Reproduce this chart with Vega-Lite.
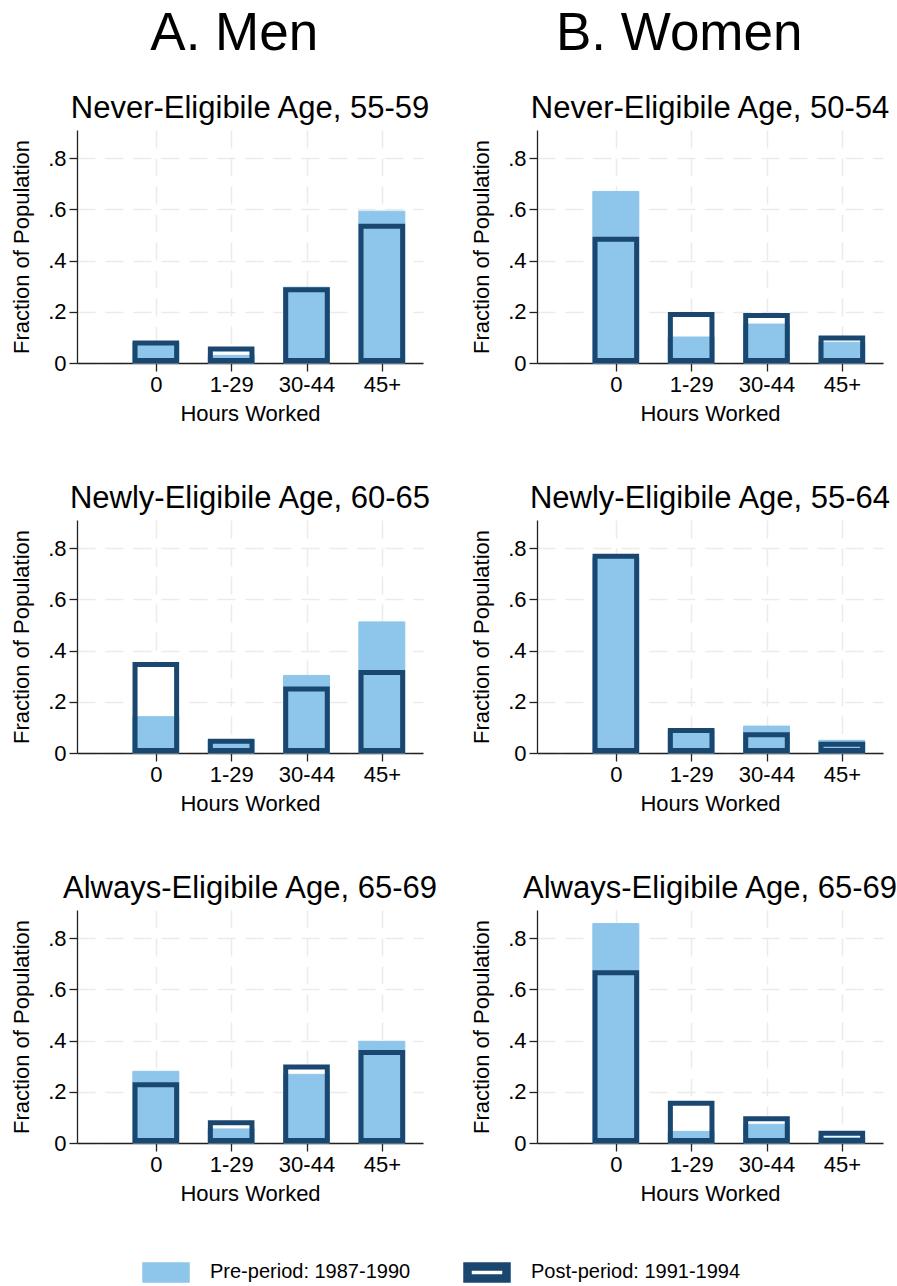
{
  "$schema": "https://vega.github.io/schema/vega-lite/v6.json",
  "background": "white",
  "padding": {"left": 10, "top": 8, "right": 5, "bottom": 4},
  "data": {"values": [
    {"panel": "m1", "pos": 0, "hours": "0", "period": "Pre-period: 1987-1990", "value": 0.080},
    {"panel": "m1", "pos": 1, "hours": "1-29", "period": "Pre-period: 1987-1990", "value": 0.030},
    {"panel": "m1", "pos": 2, "hours": "30-44", "period": "Pre-period: 1987-1990", "value": 0.296},
    {"panel": "m1", "pos": 3, "hours": "45+", "period": "Pre-period: 1987-1990", "value": 0.593},
    {"panel": "m1", "pos": 0, "hours": "0", "period": "Post-period: 1991-1994", "value": 0.088},
    {"panel": "m1", "pos": 1, "hours": "1-29", "period": "Post-period: 1991-1994", "value": 0.064},
    {"panel": "m1", "pos": 2, "hours": "30-44", "period": "Post-period: 1991-1994", "value": 0.296},
    {"panel": "m1", "pos": 3, "hours": "45+", "period": "Post-period: 1991-1994", "value": 0.544},
    {"panel": "f1", "pos": 0, "hours": "0", "period": "Pre-period: 1987-1990", "value": 0.670},
    {"panel": "f1", "pos": 1, "hours": "1-29", "period": "Pre-period: 1987-1990", "value": 0.1015},
    {"panel": "f1", "pos": 2, "hours": "30-44", "period": "Pre-period: 1987-1990", "value": 0.152},
    {"panel": "f1", "pos": 3, "hours": "45+", "period": "Pre-period: 1987-1990", "value": 0.081},
    {"panel": "f1", "pos": 0, "hours": "0", "period": "Post-period: 1991-1994", "value": 0.493},
    {"panel": "f1", "pos": 1, "hours": "1-29", "period": "Post-period: 1991-1994", "value": 0.199},
    {"panel": "f1", "pos": 2, "hours": "30-44", "period": "Post-period: 1991-1994", "value": 0.195},
    {"panel": "f1", "pos": 3, "hours": "45+", "period": "Post-period: 1991-1994", "value": 0.107},
    {"panel": "m2", "pos": 0, "hours": "0", "period": "Pre-period: 1987-1990", "value": 0.142},
    {"panel": "m2", "pos": 1, "hours": "1-29", "period": "Pre-period: 1987-1990", "value": 0.050},
    {"panel": "m2", "pos": 2, "hours": "30-44", "period": "Pre-period: 1987-1990", "value": 0.303},
    {"panel": "m2", "pos": 3, "hours": "45+", "period": "Pre-period: 1987-1990", "value": 0.512},
    {"panel": "m2", "pos": 0, "hours": "0", "period": "Post-period: 1991-1994", "value": 0.355},
    {"panel": "m2", "pos": 1, "hours": "1-29", "period": "Post-period: 1991-1994", "value": 0.056},
    {"panel": "m2", "pos": 2, "hours": "30-44", "period": "Post-period: 1991-1994", "value": 0.260},
    {"panel": "m2", "pos": 3, "hours": "45+", "period": "Post-period: 1991-1994", "value": 0.324},
    {"panel": "f2", "pos": 0, "hours": "0", "period": "Pre-period: 1987-1990", "value": 0.762},
    {"panel": "f2", "pos": 1, "hours": "1-29", "period": "Pre-period: 1987-1990", "value": 0.090},
    {"panel": "f2", "pos": 2, "hours": "30-44", "period": "Pre-period: 1987-1990", "value": 0.105},
    {"panel": "f2", "pos": 3, "hours": "45+", "period": "Pre-period: 1987-1990", "value": 0.0495},
    {"panel": "f2", "pos": 0, "hours": "0", "period": "Post-period: 1991-1994", "value": 0.778},
    {"panel": "f2", "pos": 1, "hours": "1-29", "period": "Post-period: 1991-1994", "value": 0.0976},
    {"panel": "f2", "pos": 2, "hours": "30-44", "period": "Post-period: 1991-1994", "value": 0.081},
    {"panel": "f2", "pos": 3, "hours": "45+", "period": "Post-period: 1991-1994", "value": 0.044},
    {"panel": "m3", "pos": 0, "hours": "0", "period": "Pre-period: 1987-1990", "value": 0.280},
    {"panel": "m3", "pos": 1, "hours": "1-29", "period": "Pre-period: 1987-1990", "value": 0.055},
    {"panel": "m3", "pos": 2, "hours": "30-44", "period": "Pre-period: 1987-1990", "value": 0.268},
    {"panel": "m3", "pos": 3, "hours": "45+", "period": "Pre-period: 1987-1990", "value": 0.397},
    {"panel": "m3", "pos": 0, "hours": "0", "period": "Post-period: 1991-1994", "value": 0.237},
    {"panel": "m3", "pos": 1, "hours": "1-29", "period": "Post-period: 1991-1994", "value": 0.0885},
    {"panel": "m3", "pos": 2, "hours": "30-44", "period": "Post-period: 1991-1994", "value": 0.307},
    {"panel": "m3", "pos": 3, "hours": "45+", "period": "Post-period: 1991-1994", "value": 0.363},
    {"panel": "f3", "pos": 0, "hours": "0", "period": "Pre-period: 1987-1990", "value": 0.857},
    {"panel": "f3", "pos": 1, "hours": "1-29", "period": "Pre-period: 1987-1990", "value": 0.0455},
    {"panel": "f3", "pos": 2, "hours": "30-44", "period": "Pre-period: 1987-1990", "value": 0.073},
    {"panel": "f3", "pos": 3, "hours": "45+", "period": "Pre-period: 1987-1990", "value": 0.022},
    {"panel": "f3", "pos": 0, "hours": "0", "period": "Post-period: 1991-1994", "value": 0.675},
    {"panel": "f3", "pos": 1, "hours": "1-29", "period": "Post-period: 1991-1994", "value": 0.165},
    {"panel": "f3", "pos": 2, "hours": "30-44", "period": "Post-period: 1991-1994", "value": 0.104},
    {"panel": "f3", "pos": 3, "hours": "45+", "period": "Post-period: 1991-1994", "value": 0.048}
  ]},
  "spacing": 32,
  "hconcat": [
    {
      "title": {"text": "A. Men", "fontSize": 53, "anchor": "middle", "frame": "bounds", "offset": 32, "dx": 10},
      "spacing": 59,
      "vconcat": [
        {
          "title": "Never-Eligibile Age, 55-59",
          "width": 346, "height": 233,
          "transform": [{"filter": "datum.panel == 'm1'"}],
          "layer": [
            {"transform": [{"filter": "datum.period == 'Post-period: 1991-1994'"}], "mark": {"type": "bar", "orient": "vertical", "size": 46.6, "fill": "white"}, "encoding": {"x": {"field": "pos", "type": "quantitative", "scale": {"domain": [-0.98, 3.48], "nice": false, "zero": false}, "axis": {"values": [0, 1, 2, 3], "labelExpr": "['0','1-29','30-44','45+'][datum.value]", "title": "Hours Worked"}}, "y": {"field": "value", "type": "quantitative", "scale": {"domain": [0, 0.91], "nice": false}, "axis": {"values": [0, 0.2, 0.4, 0.6, 0.8], "labelExpr": "datum.value == 0 ? '0' : replace(format(datum.value, '.1f'), '0.', '.')", "title": "Fraction of Population"}}}},
            {"transform": [{"filter": "datum.period == 'Pre-period: 1987-1990'"}], "mark": {"type": "bar", "orient": "vertical", "size": 46}, "encoding": {"x": {"field": "pos", "type": "quantitative"}, "y": {"field": "value", "type": "quantitative"}, "fill": {"field": "period", "type": "nominal", "scale": {"domain": ["Pre-period: 1987-1990", "Post-period: 1991-1994"], "range": ["#8ec5ea", "white"]}}, "stroke": {"field": "period", "type": "nominal", "scale": {"domain": ["Pre-period: 1987-1990", "Post-period: 1991-1994"], "range": ["#8ec5ea", "#1a476f"]}}}},
            {"transform": [{"filter": "datum.period == 'Post-period: 1991-1994'"}], "mark": {"type": "bar", "orient": "vertical", "size": 41.6, "fill": "white", "fillOpacity": 0, "stroke": "#1a476f", "strokeWidth": 5, "yOffset": 2.5, "y2Offset": -2.5}, "encoding": {"x": {"field": "pos", "type": "quantitative"}, "y": {"field": "value", "type": "quantitative"}, "y2": {"datum": 0}}}
          ]
        },
        {
          "title": "Newly-Eligibile Age, 60-65",
          "width": 346, "height": 233,
          "transform": [{"filter": "datum.panel == 'm2'"}],
          "layer": [
            {"transform": [{"filter": "datum.period == 'Post-period: 1991-1994'"}], "mark": {"type": "bar", "orient": "vertical", "size": 46.6, "fill": "white"}, "encoding": {"x": {"field": "pos", "type": "quantitative", "scale": {"domain": [-0.98, 3.48], "nice": false, "zero": false}, "axis": {"values": [0, 1, 2, 3], "labelExpr": "['0','1-29','30-44','45+'][datum.value]", "title": "Hours Worked"}}, "y": {"field": "value", "type": "quantitative", "scale": {"domain": [0, 0.91], "nice": false}, "axis": {"values": [0, 0.2, 0.4, 0.6, 0.8], "labelExpr": "datum.value == 0 ? '0' : replace(format(datum.value, '.1f'), '0.', '.')", "title": "Fraction of Population"}}}},
            {"transform": [{"filter": "datum.period == 'Pre-period: 1987-1990'"}], "mark": {"type": "bar", "orient": "vertical", "size": 46}, "encoding": {"x": {"field": "pos", "type": "quantitative"}, "y": {"field": "value", "type": "quantitative"}, "fill": {"field": "period", "type": "nominal", "scale": {"domain": ["Pre-period: 1987-1990", "Post-period: 1991-1994"], "range": ["#8ec5ea", "white"]}}, "stroke": {"field": "period", "type": "nominal", "scale": {"domain": ["Pre-period: 1987-1990", "Post-period: 1991-1994"], "range": ["#8ec5ea", "#1a476f"]}}}},
            {"transform": [{"filter": "datum.period == 'Post-period: 1991-1994'"}], "mark": {"type": "bar", "orient": "vertical", "size": 41.6, "fill": "white", "fillOpacity": 0, "stroke": "#1a476f", "strokeWidth": 5, "yOffset": 2.5, "y2Offset": -2.5}, "encoding": {"x": {"field": "pos", "type": "quantitative"}, "y": {"field": "value", "type": "quantitative"}, "y2": {"datum": 0}}}
          ]
        },
        {
          "title": "Always-Eligibile Age, 65-69",
          "width": 346, "height": 233,
          "transform": [{"filter": "datum.panel == 'm3'"}],
          "layer": [
            {"transform": [{"filter": "datum.period == 'Post-period: 1991-1994'"}], "mark": {"type": "bar", "orient": "vertical", "size": 46.6, "fill": "white"}, "encoding": {"x": {"field": "pos", "type": "quantitative", "scale": {"domain": [-0.98, 3.48], "nice": false, "zero": false}, "axis": {"values": [0, 1, 2, 3], "labelExpr": "['0','1-29','30-44','45+'][datum.value]", "title": "Hours Worked"}}, "y": {"field": "value", "type": "quantitative", "scale": {"domain": [0, 0.91], "nice": false}, "axis": {"values": [0, 0.2, 0.4, 0.6, 0.8], "labelExpr": "datum.value == 0 ? '0' : replace(format(datum.value, '.1f'), '0.', '.')", "title": "Fraction of Population"}}}},
            {"transform": [{"filter": "datum.period == 'Pre-period: 1987-1990'"}], "mark": {"type": "bar", "orient": "vertical", "size": 46}, "encoding": {"x": {"field": "pos", "type": "quantitative"}, "y": {"field": "value", "type": "quantitative"}, "fill": {"field": "period", "type": "nominal", "scale": {"domain": ["Pre-period: 1987-1990", "Post-period: 1991-1994"], "range": ["#8ec5ea", "white"]}}, "stroke": {"field": "period", "type": "nominal", "scale": {"domain": ["Pre-period: 1987-1990", "Post-period: 1991-1994"], "range": ["#8ec5ea", "#1a476f"]}}}},
            {"transform": [{"filter": "datum.period == 'Post-period: 1991-1994'"}], "mark": {"type": "bar", "orient": "vertical", "size": 41.6, "fill": "white", "fillOpacity": 0, "stroke": "#1a476f", "strokeWidth": 5, "yOffset": 2.5, "y2Offset": -2.5}, "encoding": {"x": {"field": "pos", "type": "quantitative"}, "y": {"field": "value", "type": "quantitative"}, "y2": {"datum": 0}}}
          ]
        }
      ]
    },
    {
      "title": {"text": "B. Women", "fontSize": 53, "anchor": "middle", "frame": "bounds", "offset": 32, "dx": -5},
      "spacing": 59,
      "vconcat": [
        {
          "title": "Never-Eligibile Age, 50-54",
          "width": 346, "height": 233,
          "transform": [{"filter": "datum.panel == 'f1'"}],
          "layer": [
            {"transform": [{"filter": "datum.period == 'Post-period: 1991-1994'"}], "mark": {"type": "bar", "orient": "vertical", "size": 46.6, "fill": "white"}, "encoding": {"x": {"field": "pos", "type": "quantitative", "scale": {"domain": [-0.98, 3.48], "nice": false, "zero": false}, "axis": {"values": [0, 1, 2, 3], "labelExpr": "['0','1-29','30-44','45+'][datum.value]", "title": "Hours Worked"}}, "y": {"field": "value", "type": "quantitative", "scale": {"domain": [0, 0.91], "nice": false}, "axis": {"values": [0, 0.2, 0.4, 0.6, 0.8], "labelExpr": "datum.value == 0 ? '0' : replace(format(datum.value, '.1f'), '0.', '.')", "title": "Fraction of Population"}}}},
            {"transform": [{"filter": "datum.period == 'Pre-period: 1987-1990'"}], "mark": {"type": "bar", "orient": "vertical", "size": 46}, "encoding": {"x": {"field": "pos", "type": "quantitative"}, "y": {"field": "value", "type": "quantitative"}, "fill": {"field": "period", "type": "nominal", "scale": {"domain": ["Pre-period: 1987-1990", "Post-period: 1991-1994"], "range": ["#8ec5ea", "white"]}}, "stroke": {"field": "period", "type": "nominal", "scale": {"domain": ["Pre-period: 1987-1990", "Post-period: 1991-1994"], "range": ["#8ec5ea", "#1a476f"]}}}},
            {"transform": [{"filter": "datum.period == 'Post-period: 1991-1994'"}], "mark": {"type": "bar", "orient": "vertical", "size": 41.6, "fill": "white", "fillOpacity": 0, "stroke": "#1a476f", "strokeWidth": 5, "yOffset": 2.5, "y2Offset": -2.5}, "encoding": {"x": {"field": "pos", "type": "quantitative"}, "y": {"field": "value", "type": "quantitative"}, "y2": {"datum": 0}}}
          ]
        },
        {
          "title": "Newly-Eligibile Age, 55-64",
          "width": 346, "height": 233,
          "transform": [{"filter": "datum.panel == 'f2'"}],
          "layer": [
            {"transform": [{"filter": "datum.period == 'Post-period: 1991-1994'"}], "mark": {"type": "bar", "orient": "vertical", "size": 46.6, "fill": "white"}, "encoding": {"x": {"field": "pos", "type": "quantitative", "scale": {"domain": [-0.98, 3.48], "nice": false, "zero": false}, "axis": {"values": [0, 1, 2, 3], "labelExpr": "['0','1-29','30-44','45+'][datum.value]", "title": "Hours Worked"}}, "y": {"field": "value", "type": "quantitative", "scale": {"domain": [0, 0.91], "nice": false}, "axis": {"values": [0, 0.2, 0.4, 0.6, 0.8], "labelExpr": "datum.value == 0 ? '0' : replace(format(datum.value, '.1f'), '0.', '.')", "title": "Fraction of Population"}}}},
            {"transform": [{"filter": "datum.period == 'Pre-period: 1987-1990'"}], "mark": {"type": "bar", "orient": "vertical", "size": 46}, "encoding": {"x": {"field": "pos", "type": "quantitative"}, "y": {"field": "value", "type": "quantitative"}, "fill": {"field": "period", "type": "nominal", "scale": {"domain": ["Pre-period: 1987-1990", "Post-period: 1991-1994"], "range": ["#8ec5ea", "white"]}}, "stroke": {"field": "period", "type": "nominal", "scale": {"domain": ["Pre-period: 1987-1990", "Post-period: 1991-1994"], "range": ["#8ec5ea", "#1a476f"]}}}},
            {"transform": [{"filter": "datum.period == 'Post-period: 1991-1994'"}], "mark": {"type": "bar", "orient": "vertical", "size": 41.6, "fill": "white", "fillOpacity": 0, "stroke": "#1a476f", "strokeWidth": 5, "yOffset": 2.5, "y2Offset": -2.5}, "encoding": {"x": {"field": "pos", "type": "quantitative"}, "y": {"field": "value", "type": "quantitative"}, "y2": {"datum": 0}}}
          ]
        },
        {
          "title": "Always-Eligibile Age, 65-69",
          "width": 346, "height": 233,
          "transform": [{"filter": "datum.panel == 'f3'"}],
          "layer": [
            {"transform": [{"filter": "datum.period == 'Post-period: 1991-1994'"}], "mark": {"type": "bar", "orient": "vertical", "size": 46.6, "fill": "white"}, "encoding": {"x": {"field": "pos", "type": "quantitative", "scale": {"domain": [-0.98, 3.48], "nice": false, "zero": false}, "axis": {"values": [0, 1, 2, 3], "labelExpr": "['0','1-29','30-44','45+'][datum.value]", "title": "Hours Worked"}}, "y": {"field": "value", "type": "quantitative", "scale": {"domain": [0, 0.91], "nice": false}, "axis": {"values": [0, 0.2, 0.4, 0.6, 0.8], "labelExpr": "datum.value == 0 ? '0' : replace(format(datum.value, '.1f'), '0.', '.')", "title": "Fraction of Population"}}}},
            {"transform": [{"filter": "datum.period == 'Pre-period: 1987-1990'"}], "mark": {"type": "bar", "orient": "vertical", "size": 46}, "encoding": {"x": {"field": "pos", "type": "quantitative"}, "y": {"field": "value", "type": "quantitative"}, "fill": {"field": "period", "type": "nominal", "scale": {"domain": ["Pre-period: 1987-1990", "Post-period: 1991-1994"], "range": ["#8ec5ea", "white"]}}, "stroke": {"field": "period", "type": "nominal", "scale": {"domain": ["Pre-period: 1987-1990", "Post-period: 1991-1994"], "range": ["#8ec5ea", "#1a476f"]}}}},
            {"transform": [{"filter": "datum.period == 'Post-period: 1991-1994'"}], "mark": {"type": "bar", "orient": "vertical", "size": 41.6, "fill": "white", "fillOpacity": 0, "stroke": "#1a476f", "strokeWidth": 5, "yOffset": 2.5, "y2Offset": -2.5}, "encoding": {"x": {"field": "pos", "type": "quantitative"}, "y": {"field": "value", "type": "quantitative"}, "y2": {"datum": 0}}}
          ]
        }
      ]
    }
  ],
  "config": {
    "font": "Liberation Sans",
    "view": {"stroke": null},
    "title": {"font": "Liberation Sans", "fontSize": 31, "fontWeight": "normal", "color": "black", "anchor": "middle", "frame": "group", "offset": 5},
    "axis": {
      "domainColor": "#222", "domainWidth": 1.3, "tickColor": "#222", "tickWidth": 1.3, "tickSize": 8,
      "labelFont": "Liberation Sans", "labelFontSize": 22, "labelColor": "black", "labelPadding": 3,
      "titleFont": "Liberation Sans", "titleFontSize": 22, "titleFontWeight": "normal", "titleColor": "black",
      "grid": true, "gridColor": "#ebebeb", "gridDash": [18, 10], "gridWidth": 1.5
    },
    "axisX": {"titlePadding": 8},
    "axisY": {"titlePadding": 14},
    "legend": {
      "orient": "none", "legendX": 65, "legendY": 1118, "direction": "horizontal", "title": null,
      "symbolType": "M-1,-0.3077H1V0.3077H-1Z", "symbolSize": 1521, "symbolStrokeWidth": 8.5, "symbolOpacity": 1,
      "labelFont": "Liberation Sans", "labelFontSize": 20, "labelColor": "black", "labelOffset": 20, "labelLimit": 400,
      "columnPadding": 39
    }
  }
}
